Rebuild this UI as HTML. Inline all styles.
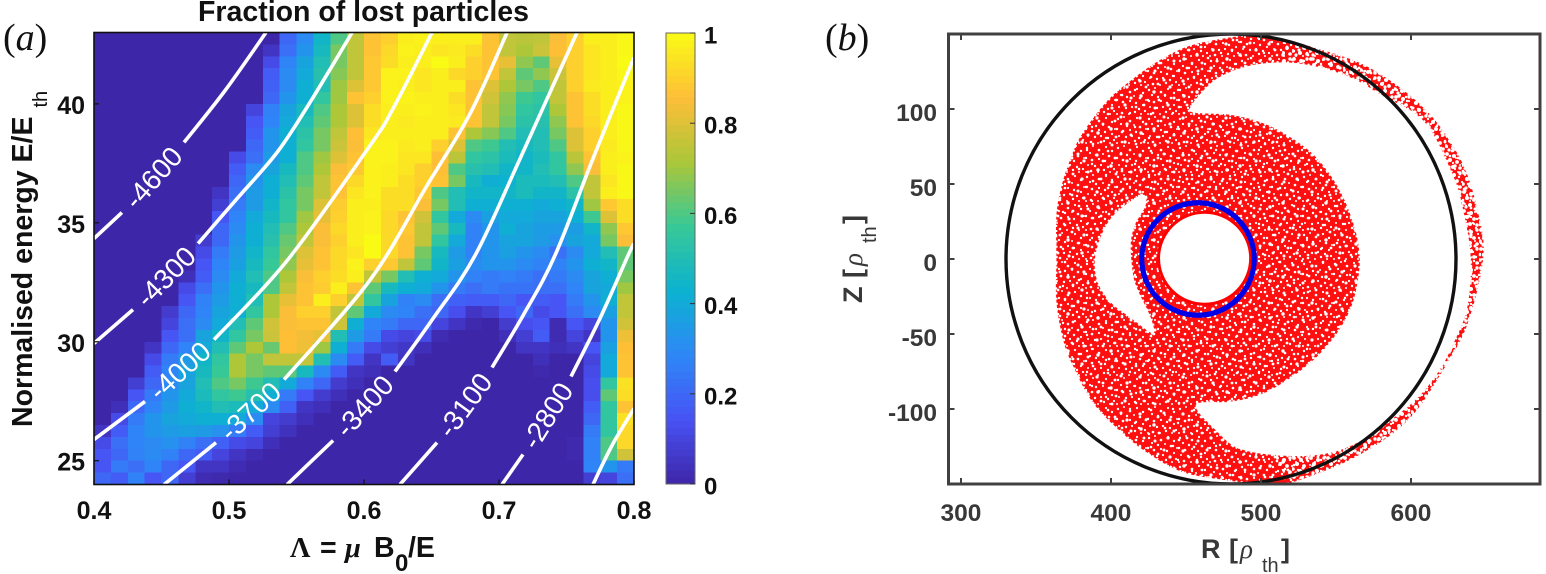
<!DOCTYPE html>
<html lang="en">
<head>
<meta charset="utf-8">
<title>Fraction of lost particles and particle loss map</title>
<style>
html,body{margin:0;padding:0;background:#fff;}
svg{display:block;font-family:"Liberation Sans",sans-serif;}
.tick{font-weight:bold;font-size:25px;fill:#111;}
.cbtick{font-weight:bold;font-size:24px;fill:#111;}
.tickb{font-weight:bold;font-size:24.5px;fill:#383838;}
.title{font-weight:bold;font-size:28.5px;fill:#111;}
.titleb{font-weight:bold;font-size:27px;fill:#383838;}
.panel{font-family:"Liberation Serif",serif;font-size:38px;fill:#111;}
.greek{font-family:"Liberation Serif",serif;}
.sub{font-weight:normal;font-size:20px;}
</style>
</head>
<body>
<svg id="fig" xmlns="http://www.w3.org/2000/svg" width="1546" height="574" viewBox="0 0 1546 574">
  <defs>
    <pattern id="dense" patternUnits="userSpaceOnUse" width="31" height="29">
      <rect width="31" height="29" fill="#ff1010"/>
      <g fill="#fff">
        <circle cx="2" cy="3" r="1.2"/><circle cx="8" cy="1" r="1"/><circle cx="14" cy="5" r="1.3"/><circle cx="21" cy="2" r="1.1"/><circle cx="27" cy="6" r="1.2"/>
        <circle cx="5" cy="8" r="1.1"/><circle cx="11" cy="10" r="1.2"/><circle cx="18" cy="9" r="1"/><circle cx="24" cy="11" r="1.3"/><circle cx="30" cy="13" r="1"/>
        <circle cx="1" cy="13" r="1.2"/><circle cx="7" cy="15" r="1.3"/><circle cx="14" cy="14" r="1.1"/><circle cx="20" cy="16" r="1.2"/><circle cx="27" cy="18" r="1.1"/>
        <circle cx="3" cy="20" r="1"/><circle cx="10" cy="21" r="1.2"/><circle cx="16" cy="20" r="1.1"/><circle cx="23" cy="22" r="1.2"/><circle cx="29" cy="24" r="1.1"/>
        <circle cx="6" cy="26" r="1.3"/><circle cx="13" cy="27" r="1"/><circle cx="19" cy="25" r="1.2"/><circle cx="25" cy="27" r="1"/><circle cx="1" cy="27" r="1"/>
      </g>
    </pattern>
    <pattern id="speck" patternUnits="userSpaceOnUse" width="43" height="37">
      <g fill="#fff">
        <circle cx="3" cy="6" r="1.5"/><circle cx="12" cy="2" r="1.2"/><circle cx="22" cy="7" r="1.6"/><circle cx="33" cy="3" r="1.3"/><circle cx="40" cy="10" r="1.4"/>
        <circle cx="9" cy="13" r="1.6"/><circle cx="17" cy="16" r="1.2"/><circle cx="28" cy="13" r="1.4"/><circle cx="36" cy="18" r="1.7"/><circle cx="4" cy="21" r="1.3"/>
        <circle cx="13" cy="24" r="1.5"/><circle cx="23" cy="22" r="1.7"/><circle cx="31" cy="27" r="1.2"/><circle cx="41" cy="26" r="1.4"/><circle cx="7" cy="31" r="1.6"/>
        <circle cx="18" cy="33" r="1.3"/><circle cx="26" cy="31" r="1.4"/><circle cx="37" cy="34" r="1.5"/>
      </g>
    </pattern>
    <pattern id="sparse" patternUnits="userSpaceOnUse" width="17" height="19">
      <g fill="#fff">
        <circle cx="2" cy="2" r="1.9"/><circle cx="9" cy="4" r="2"/><circle cx="15" cy="2" r="1.7"/><circle cx="5" cy="8" r="2"/><circle cx="12" cy="10" r="1.9"/>
        <circle cx="1" cy="13" r="1.8"/><circle cx="8" cy="15" r="2"/><circle cx="15" cy="16" r="1.8"/><circle cx="4" cy="17" r="1.6"/>
      </g>
    </pattern>
    <clipPath id="clipA"><rect x="94" y="33" width="540" height="451"/></clipPath>
    <clipPath id="clipB"><rect x="949" y="35" width="590" height="449"/></clipPath>
  </defs>
  <g id="panelA"></g>
  <g id="panelB"></g>
</svg>
<script>
/* ---------- Panel (a) data ---------- */
var xDomain = [0.4, 0.8];
var yDomain = [24, 43];
var xTickValues = [0.4, 0.5, 0.6, 0.7, 0.8];
var xTickLabels = ["0.4", "0.5", "0.6", "0.7", "0.8"];
var yTickValues = [25, 30, 35, 40];
var yTickLabels = ["25", "30", "35", "40"];
var colorbarTickValues = [0, 0.2, 0.4, 0.6, 0.8, 1];
var colorbarTickLabels = ["0", "0.2", "0.4", "0.6", "0.8", "1"];

/* lost fraction in percent; rows top (E high) to bottom (E low), columns left to right */
var lostFraction = [
[0,0,0,0,0,0,0,0,0,0,0,20,30,45,60,75, 87,90,97,98,97,97,97,87,75,74,75,85,90,97,97,99],
[0,0,0,0,0,0,0,0,0,0,5,22,33,47,65,75, 87,92,98,97,95,96,93,87,75,72,77,86,90,95,97,99],
[0,0,0,0,0,0,0,0,0,0,12,28,38,50,65,75, 88,93,97,97,100,97,90,87,82,68,62,82,90,95,97,100],
[0,0,0,0,0,0,0,0,0,0,17,30,40,52,67,75, 88,98,98,95,97,92,90,87,75,62,68,77,90,95,97,99],
[0,0,0,0,0,0,0,0,0,0,18,30,42,50,70,80, 88,98,97,95,97,97,87,80,72,65,60,75,90,96,97,98],
[0,0,0,0,0,0,0,0,0,0,20,33,42,55,70,87, 90,98,98,97,97,93,87,78,68,58,55,75,87,93,97,98],
[0,0,0,0,0,0,0,0,0,10,27,38,47,60,72,80, 93,97,97,98,97,95,87,75,67,55,53,72,87,93,97,99],
[0,0,0,0,0,0,0,0,0,15,28,40,50,62,72,80, 93,97,96,97,97,96,87,75,65,53,52,68,87,92,97,99],
[0,0,0,0,0,0,0,0,0,17,33,42,53,65,75,86, 95,97,97,97,97,87,72,67,60,50,50,65,80,90,97,99],
[0,0,0,0,0,0,0,0,0,20,33,42,55,65,77,85, 98,98,96,97,90,80,60,58,50,47,50,60,80,90,96,99],
[0,0,0,0,0,0,0,0,12,22,35,42,60,70,80,87, 98,98,95,95,86,74,55,53,48,45,48,55,74,87,97,98],
[0,0,0,0,0,0,0,0,17,30,38,47,60,72,85,88, 98,97,95,90,86,60,52,50,45,45,50,55,68,85,97,99],
[0,0,0,0,0,0,0,0,20,33,42,50,62,75,87,92, 98,97,93,90,87,65,47,42,43,48,48,50,60,75,95,99],
[0,0,0,0,0,0,0,5,22,35,42,53,65,75,87,95, 98,93,93,88,60,50,45,45,45,48,45,45,53,75,97,99],
[0,0,0,0,0,0,0,8,25,35,45,55,65,80,89,97, 97,93,93,85,65,50,42,42,42,42,40,42,45,70,88,93],
[0,0,0,0,0,0,0,15,28,40,47,55,70,82,90,97, 98,92,87,78,55,40,30,37,40,40,38,38,42,58,80,93],
[0,0,0,0,0,0,0,20,30,42,50,60,72,85,92,97, 98,92,88,75,62,47,27,33,42,38,36,35,36,45,68,88],
[0,0,0,0,0,0,7,20,33,42,52,63,75,85,90,97, 100,92,87,75,55,40,27,33,38,38,35,32,38,40,65,85],
[0,0,0,0,0,0,12,25,35,45,55,65,80,87,92,95, 100,92,87,65,47,35,27,33,37,33,30,22,30,40,50,62],
[0,0,0,0,0,0,15,28,37,47,57,68,82,87,92,98, 90,88,75,62,45,37,30,33,33,30,27,27,33,42,45,62],
[0,0,0,0,0,3,17,30,40,50,60,72,85,90,93,97, 75,65,50,42,40,33,27,25,27,25,22,25,30,38,42,65],
[0,0,0,0,0,12,22,33,42,47,60,75,87,89,97,87, 62,47,42,40,33,25,22,25,23,23,22,22,28,38,40,70],
[0,0,0,0,0,15,27,35,42,50,72,82,87,97,90,75, 55,38,27,30,22,18,17,17,20,15,17,15,25,33,42,75],
[0,0,0,0,7,20,28,38,42,55,72,85,90,90,75,62, 40,30,28,22,20,13,5,8,15,20,12,15,22,30,37,75],
[0,0,0,0,10,22,30,40,50,62,78,85,87,87,77,42, 28,25,20,20,10,5,1,0,7,13,15,2,15,10,33,78],
[0,0,0,0,15,22,38,45,55,65,77,86,84,82,50,35, 25,12,10,12,2,0,0,0,3,8,17,2,10,5,33,83],
[0,0,0,5,20,28,40,50,62,72,63,86,83,70,42,25, 12,8,6,3,0,0,0,0,0,5,5,3,5,15,37,86],
[0,0,0,12,25,35,45,55,72,65,75,75,75,50,30,17, 5,17,5,0,0,0,0,0,0,0,3,0,0,10,40,87],
[0,0,0,17,28,38,47,57,72,65,62,62,47,30,17,5, 3,0,0,0,0,0,0,0,0,0,1,0,0,12,40,87],
[0,0,8,20,30,38,50,60,65,58,50,40,27,20,7,3, 0,0,0,0,0,0,0,0,0,0,0,0,0,13,55,94],
[0,0,15,25,33,40,48,55,58,52,42,25,15,7,3,0, 0,0,0,0,0,0,0,0,0,0,0,0,0,13,62,93],
[0,3,20,28,35,42,45,50,48,40,30,18,5,3,0,0, 0,0,0,0,0,0,0,0,0,0,0,0,0,17,55,87],
[0,12,25,33,38,40,42,42,40,30,10,7,3,0,0,0, 0,0,0,0,0,0,0,0,0,0,0,0,0,20,55,94],
[5,17,28,33,35,37,35,32,25,17,8,4,0,0,0,0, 0,0,0,0,0,0,0,0,0,0,0,0,0,25,55,92],
[12,22,28,30,32,27,22,18,12,10,3,0,0,0,0,0, 0,0,0,0,0,0,0,0,0,0,0,0,1,27,60,92],
[15,20,27,30,27,20,17,10,5,2,0,0,0,0,0,0, 0,0,0,0,0,0,0,0,0,0,0,0,1,27,60,78],
[15,25,22,28,20,15,5,5,2,0,0,0,0,0,0,0, 0,0,0,0,0,0,0,0,0,0,0,0,0,28,33,25],
[20,17,27,15,20,8,2,1,0,0,0,0,0,0,0,0, 0,0,0,0,0,0,0,0,0,0,0,0,0,8,10,22]
];

/* contour polylines as [Lambda, E], split where the inline label sits */
var contour4600a = [[0.4,34.34],[0.4207,35.43]];
var contour4600b = [[0.4667,38.38],[0.4971,40.56],[0.5274,43]];
var contour4300a = [[0.4,29.93],[0.4289,31.35]];
var contour4300b = [[0.4771,34.13],[0.506,36.02],[0.5356,37.96],[0.56,40.06],[0.5912,43]];
var contour4000a = [[0.4,25.89],[0.4378,27.49]];
var contour4000b = [[0.4889,30.09],[0.543,33.41],[0.6045,38.25],[0.6215,39.8],[0.6504,43]];
var contour3700a = [[0.4519,24],[0.4904,25.76]];
var contour3700b = [[0.5408,28.41],[0.6045,32.6],[0.6467,36.57],[0.6786,39.59],[0.706,43]];
var contour3400a = [[0.543,24],[0.5771,25.85]];
var contour3400b = [[0.623,28.75],[0.6512,30.98],[0.6823,33.63],[0.7156,37.7],[0.7578,43]];
var contour3100a = [[0.6267,24],[0.6541,25.76]];
var contour3100b = [[0.6948,28.92],[0.7178,31.1],[0.7415,33.63],[0.7696,37.7],[0.8,41.95]];
var contour2800a = [[0.7022,24],[0.7178,25.26]];
var contour2800b = [[0.7533,28.54],[0.7748,30.98],[0.7956,33.63],[0.8,34.13]];
var contour2500 = [[0.7696,24],[0.7837,25.64],[0.8,27.19]];
var contourLabels = ["-4600","-4300","-4000","-3700","-3400","-3100","-2800"];

/* ---------- Panel (b) data ---------- */
var rTickValues = [300, 400, 500, 600];
var rTickLabels = ["300", "400", "500", "600"];
var zTickValues = [100, 50, 0, -50, -100];
var zTickLabels = ["100", "50", "0", "-50", "-100"];
var wallCircle = [480, 0, 150];      /* R centre, Z centre, radius */
var innerCircle = [458, 0, 37.5];
var holeCircle = [462.4, 0.5, 30.7];

/* outline of the cloud of lost particles as [R, Z] */
var cloudOutline = [[501.7,149.3],[482.7,148.2],[454.1,142.7],[432.7,132.7],[413.6,119.3],[397,104.9],[380.3,82.7],[373.1,67.1],[367.2,49.3],[363.6,29.3],[363.6,0.4],[363.6,-28.4],[368.4,-55.1],[375.5,-72.9],[387.4,-95.1],[404.1,-112.9],[423.1,-128.4],[447,-141.8],[475.5,-147.3],[499.3,-150],[518.4,-149.6],[561.2,-132.9],[597,-108.4],[620.8,-75.1],[637.4,-44],[648.1,0.4],[644.6,31.6],[632.7,67.1],[608.9,100.4],[573.1,127.1],[537.4,140.4]];
var rightVoid = [[454.1,102.7],[458.9,109.3],[470.8,120.4],[489.8,128.2],[513.6,131.1],[537.4,128.2],[561.2,120.4],[580.3,109.3],[608.9,91.6],[627.9,56],[635,31.6],[639.8,0.4],[637.4,-32.9],[627.9,-57.3],[618.4,-75.1],[604.1,-92.9],[585,-108.4],[561.2,-124],[537.4,-130.7],[508.8,-130.7],[485,-126.2],[470.8,-115.1],[456.5,-97.3],[480.3,-95.1],[501.7,-89.6],[525.5,-75.1],[544.6,-57.3],[558.9,-35.1],[564.8,-12.9],[565.5,4.9],[561.2,24.9],[551.7,47.1],[537.4,67.1],[520.8,80.4],[501.7,90.4],[480.3,96],[454.1,97.8]];
var leftVoid = [[420.8,42.7],[404.1,31.6],[394.6,18.2],[389.3,0.4],[391,-15.1],[399.3,-28.4],[413.6,-39.6],[427.9,-49.6],[426.7,-39.6],[418.4,-21.8],[414.8,-10.7],[413.1,9.3],[416,22.7],[423.1,36]];
var sparseOuterEdge = [[518.4,-149.6],[561.2,-132.9],[597,-108.4],[620.8,-75.1],[637.4,-44],[648.1,0.4],[644.6,31.6],[632.7,67.1],[608.9,100.4],[573.1,127.1],[537.4,140.4],[515,150]];
var sparseInnerEdge = [[513.6,131.1],[537.4,128.2],[561.2,120.4],[580.3,109.3],[608.9,91.6],[627.9,56],[635,31.6],[639.8,0.4],[637.4,-32.9],[627.9,-57.3],[618.4,-75.1],[604.1,-92.9],[585,-108.4],[561.2,-124],[537.4,-130.7],[508.8,-130.7]];

/* colour map anchors */
var parulaStops = [[62,38,168],[72,82,244],[46,135,247],[12,178,208],[55,200,151],[171,199,57],[254,190,56],[249,251,21]];

/* ---------- Helpers ---------- */
var NS = "http://www.w3.org/2000/svg";
function mk(parent, tag, attrs, text) {
  var el = document.createElementNS(NS, tag);
  for (var k in attrs) el.setAttribute(k, attrs[k]);
  if (text !== undefined) el.textContent = text;
  parent.appendChild(el);
  return el;
}
function parula(t) {
  t = Math.max(0, Math.min(1, t));
  var p = t * (parulaStops.length - 1), i = Math.min(Math.floor(p), parulaStops.length - 2), f = p - i;
  var a = parulaStops[i], b = parulaStops[i + 1];
  return "rgb(" + Math.round(a[0] + (b[0] - a[0]) * f) + "," + Math.round(a[1] + (b[1] - a[1]) * f) + "," + Math.round(a[2] + (b[2] - a[2]) * f) + ")";
}
/* smooth Catmull-Rom path through scaled points */
function curve(list, fx, fy, closed) {
  var P = list.map(function (p) { return [fx(p[0]), fy(p[1])]; }), n = P.length;
  function at(i) { return closed ? P[(i + n) % n] : P[Math.max(0, Math.min(n - 1, i))]; }
  var d = "M" + P[0][0].toFixed(1) + " " + P[0][1].toFixed(1);
  var last = closed ? n : n - 1;
  for (var i = 0; i < last; i++) {
    var p0 = at(i - 1), p1 = at(i), p2 = at(i + 1), p3 = at(i + 2);
    d += "C" + (p1[0] + (p2[0] - p0[0]) / 6).toFixed(1) + " " + (p1[1] + (p2[1] - p0[1]) / 6).toFixed(1) + " " +
         (p2[0] - (p3[0] - p1[0]) / 6).toFixed(1) + " " + (p2[1] - (p3[1] - p1[1]) / 6).toFixed(1) + " " +
         p2[0].toFixed(1) + " " + p2[1].toFixed(1);
  }
  return d + (closed ? "Z" : "");
}
var ax = {l: 94, r: 634, t: 32.5, b: 484.5};
function sx(v) { return ax.l + (v - xDomain[0]) / (xDomain[1] - xDomain[0]) * (ax.r - ax.l); }
function sy(v) { return ax.b - (v - yDomain[0]) / (yDomain[1] - yDomain[0]) * (ax.b - ax.t); }

var A = document.getElementById("panelA");
var B = document.getElementById("panelB");

/* ---------- Panel (a): heatmap ---------- */
var heat = mk(A, "g", {"clip-path": "url(#clipA)", "shape-rendering": "crispEdges"});


var nRows = lostFraction.length, nCols = lostFraction[0].length;
var cellW = (ax.r - ax.l) / nCols, cellH = (ax.b - ax.t) / nRows;
lostFraction.forEach(function (row, r) {
  row.forEach(function (v, c) {
    var cell = mk(heat, "rect", {x: (ax.l + c * cellW).toFixed(2), y: (ax.t + r * cellH).toFixed(2), width: (cellW + 0.4).toFixed(2), height: (cellH + 0.4).toFixed(2), fill: parula(v / 100)});
    
    
  });
});

/* contours */
var contours = mk(A, "g", {"clip-path": "url(#clipA)", fill: "none", stroke: "#fff", "stroke-width": "3.6", "stroke-linejoin": "round"});


var contourParts = [[contour4600a, contour4600b],[contour4300a, contour4300b],[contour4000a, contour4000b],[contour3700a, contour3700b],[contour3400a, contour3400b],[contour3100a, contour3100b],[contour2800a, contour2800b]];
contourParts.forEach(function (pair, i) {
  pair.forEach(function (seg) {
    var line = mk(contours, "path", {d: curve(seg, sx, sy, false)});
    
    
  });
  var a = pair[0][pair[0].length - 1], b = pair[1][0];
  var x0 = sx(a[0]), y0 = sy(a[1]), x1 = sx(b[0]), y1 = sy(b[1]);
  var mx = (x0 + x1) / 2, my = (y0 + y1) / 2, ang = Math.atan2(y1 - y0, x1 - x0) * 180 / Math.PI;
  var lab = mk(A, "text", {x: mx.toFixed(1), y: (my + 10).toFixed(1), "text-anchor": "middle", "font-size": "28", fill: "#fff", transform: "rotate(" + ang.toFixed(1) + " " + mx.toFixed(1) + " " + my.toFixed(1) + ")"}, contourLabels[i]);
  
  
});
var lastLine = mk(contours, "path", {d: curve(contour2500, sx, sy, false)});



/* frame and ticks */
var frameA = mk(A, "rect", {x: ax.l, y: ax.t, width: ax.r - ax.l, height: ax.b - ax.t, fill: "none", stroke: "#111", "stroke-width": "1.6"});


xTickValues.forEach(function (v, i) {
  var x = sx(v);
  var t1 = mk(A, "line", {x1: x, x2: x, y1: ax.b, y2: ax.b - 5, stroke: "#111", "stroke-width": "1.2"});
  
  
  var l = mk(A, "text", {x: x, y: 519, "text-anchor": "middle", "class": "tick"}, xTickLabels[i]);
  
  
});
yTickValues.forEach(function (v, i) {
  var y = sy(v);
  var t1 = mk(A, "line", {x1: ax.l, x2: ax.l + 5, y1: y, y2: y, stroke: "#111", "stroke-width": "1.2"});
  
  
  var l = mk(A, "text", {x: 85, y: y + 10, "text-anchor": "end", "class": "tick"}, yTickLabels[i]);
  
  
});

/* titles */
var title = mk(A, "text", {x: 363.5, y: 21, "text-anchor": "middle", "class": "title"}, "Fraction of lost particles");



var yTitle = mk(A, "text", {transform: "translate(32,427) rotate(-90)", "class": "title"});


mk(yTitle, "tspan", {}, "Normalised energy E/E");
mk(yTitle, "tspan", {dy: "15", dx: "9", "class": "sub"}, "th");

var xTitle = mk(A, "text", {y: 557, "class": "title"});


mk(xTitle, "tspan", {x: 290, "class": "greek"}, "Λ");
mk(xTitle, "tspan", {x: 320}, "=");
mk(xTitle, "tspan", {x: 345, "class": "greek", "font-style": "italic"}, "μ");
mk(xTitle, "tspan", {x: 374}, "B");
mk(xTitle, "tspan", {x: 395, dy: "14", "font-size": "24"}, "0");
mk(xTitle, "tspan", {x: 408, dy: "-14"}, "/E");

var tagA = mk(A, "text", {x: 3, y: 50, "class": "panel"});


mk(tagA, "tspan", {}, "(");
mk(tagA, "tspan", {"font-style": "italic"}, "a");
mk(tagA, "tspan", {}, ")");

/* colourbar */
var cb = {l: 666, r: 695, t: 33, b: 484};
var cbG = mk(A, "g", {"shape-rendering": "crispEdges"});


var cbSteps = 64;
for (var s = 0; s < cbSteps; s++) {
  var h = (cb.b - cb.t) / cbSteps;
  var st = mk(cbG, "rect", {x: cb.l, y: (cb.b - (s + 1) * h).toFixed(2), width: cb.r - cb.l, height: (h + 0.5).toFixed(2), fill: parula((s + 0.5) / cbSteps)});
  
  
}
var cbF = mk(A, "rect", {x: cb.l, y: cb.t, width: cb.r - cb.l, height: cb.b - cb.t, fill: "none", stroke: "#666", "stroke-width": "1"});


colorbarTickValues.forEach(function (v, i) {
  var y = cb.b - v * (cb.b - cb.t);
  var t1 = mk(A, "line", {x1: cb.r - 5, x2: cb.r, y1: y, y2: y, stroke: "#333", "stroke-width": "1"});
  
  
  var l = mk(A, "text", {x: 704, y: y + 10.5, "class": "cbtick"}, colorbarTickLabels[i]);
  
  
});

/* ---------- Panel (b) ---------- */
var bx = {r0: 300, x0: 961, k: 1.5, z0: 259, l: 948.5, rt: 1540, t: 34, b: 484};
function rx(v) { return bx.x0 + (v - bx.r0) * bx.k; }
function zy(v) { return bx.z0 - v * bx.k; }
function ring(list) { return curve(list, rx, zy, true); }

var plotB = mk(B, "g", {"clip-path": "url(#clipB)"});


var cloudPath = ring(cloudOutline) + ring(rightVoid) + ring(leftVoid);
var cloud = mk(plotB, "path", {d: cloudPath, "fill-rule": "evenodd", fill: "url(#dense)"});


var speck = mk(plotB, "path", {d: cloudPath, "fill-rule": "evenodd", fill: "url(#speck)"});


var sparse = mk(plotB, "path", {d: curve(sparseOuterEdge, rx, zy, false) + "L" + curve(sparseInnerEdge, rx, zy, false).slice(1) + "Z", fill: "url(#sparse)"});


var rough = mk(plotB, "path", {d: cloudPath, fill: "none", stroke: "#fff", "stroke-width": "2.6", "stroke-dasharray": "2 3.2"});


var hole = mk(plotB, "circle", {cx: rx(holeCircle[0]), cy: zy(holeCircle[1]), r: holeCircle[2] * bx.k, fill: "#fff", stroke: "#ff0000", "stroke-width": "3"});


var wall = mk(plotB, "circle", {cx: rx(wallCircle[0]), cy: zy(wallCircle[1]), r: wallCircle[2] * bx.k, fill: "none", stroke: "#111", "stroke-width": "3.4"});


var inner = mk(plotB, "circle", {cx: rx(innerCircle[0]), cy: zy(innerCircle[1]), r: innerCircle[2] * bx.k, fill: "none", stroke: "#0000e6", "stroke-width": "5.2"});



var frameB = mk(B, "rect", {x: bx.l, y: bx.t, width: bx.rt - bx.l, height: bx.b - bx.t, fill: "none", stroke: "#404040", "stroke-width": "3"});


rTickValues.forEach(function (v, i) {
  var x = rx(v);
  var t1 = mk(B, "line", {x1: x, x2: x, y1: bx.b, y2: bx.b - 6, stroke: "#404040", "stroke-width": "2"});
  
  
  var t2 = mk(B, "line", {x1: x, x2: x, y1: bx.t, y2: bx.t + 6, stroke: "#404040", "stroke-width": "2"});
  
  
  var l = mk(B, "text", {x: x, y: 521, "text-anchor": "middle", "class": "tickb"}, rTickLabels[i]);
  
  
});
zTickValues.forEach(function (v, i) {
  var y = zy(v);
  var t1 = mk(B, "line", {x1: bx.l, x2: bx.l + 6, y1: y, y2: y, stroke: "#404040", "stroke-width": "2"});
  
  
  var t2 = mk(B, "line", {x1: bx.rt, x2: bx.rt - 6, y1: y, y2: y, stroke: "#404040", "stroke-width": "2"});
  
  
  var l = mk(B, "text", {x: 937, y: y + 12, "text-anchor": "end", "class": "tickb"}, zTickLabels[i]);
  
  
});

var rTitle = mk(B, "text", {y: 558, "class": "titleb"});


mk(rTitle, "tspan", {x: 1201}, "R");
mk(rTitle, "tspan", {x: 1229}, "[");
mk(rTitle, "tspan", {x: 1240, "class": "greek", "font-style": "italic", "font-weight": "normal"}, "ρ");
mk(rTitle, "tspan", {x: 1262, dy: "14", "class": "sub"}, "th");
mk(rTitle, "tspan", {x: 1281, dy: "-14"}, "]");

var zTitle = mk(B, "text", {transform: "translate(862,303) rotate(-90)", "class": "titleb"});


mk(zTitle, "tspan", {x: 0}, "Z");
mk(zTitle, "tspan", {x: 25}, "[");
mk(zTitle, "tspan", {x: 37, "class": "greek", "font-style": "italic", "font-weight": "normal"}, "ρ");
mk(zTitle, "tspan", {x: 60, dy: "14", "class": "sub"}, "th");
mk(zTitle, "tspan", {x: 79, dy: "-14"}, "]");

var tagB = mk(B, "text", {x: 825, y: 50, "class": "panel"});


mk(tagB, "tspan", {}, "(");
mk(tagB, "tspan", {"font-style": "italic"}, "b");
mk(tagB, "tspan", {}, ")");
</script>
</body>
</html>
